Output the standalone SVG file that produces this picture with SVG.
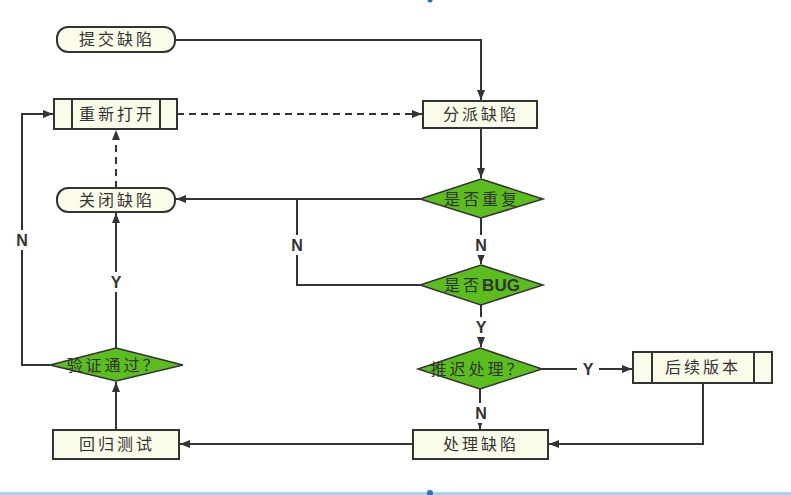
<svg xmlns="http://www.w3.org/2000/svg" width="791" height="495" viewBox="0 0 791 495">
<defs>
<marker id="ah" markerWidth="10" markerHeight="8" refX="10" refY="4" orient="auto" markerUnits="userSpaceOnUse">
<path d="M0,0 L10,4 L0,8 Z" fill="#333"/>
</marker>
<style>
.box{fill:#fbfbea;stroke:#333;stroke-width:2}
.dia{fill:#5cbd1e;stroke:#333;stroke-width:1.5}
.ln{fill:none;stroke:#333;stroke-width:2}
.dash{stroke-dasharray:7 5}
.t{font-family:"Noto Sans CJK SC","Noto Sans CJK JP",sans-serif;font-size:16px;fill:#333;text-anchor:middle;letter-spacing:3px}
.lab{font-family:"Liberation Sans",Arial,sans-serif;font-size:16px;font-weight:bold;fill:#333;text-anchor:middle}
</style>
</defs>
<rect width="791" height="495" fill="#ffffff"/>
<line x1="0" y1="493.5" x2="791" y2="493.5" stroke="#a9d3f5" stroke-width="3"/>
<circle cx="430" cy="493" r="3" fill="#2a6fd6"/>
<circle cx="430" cy="0" r="2.5" fill="#2a6fd6"/>

<g id="connectors">
<path class="ln" d="M175,40 H481 V100" marker-end="url(#ah)"/>
<path class="ln dash" d="M177,114 H422" marker-end="url(#ah)"/>
<path class="ln" d="M481,128 V178" marker-end="url(#ah)"/>
<path class="ln" d="M420,199 H176" marker-end="url(#ah)"/>
<path class="ln" d="M297,199 V285 H420"/>
<path class="ln" d="M481,218 V264" marker-end="url(#ah)"/>
<path class="ln" d="M481,305 V347" marker-end="url(#ah)"/>
<path class="ln" d="M542,369 H632" marker-end="url(#ah)"/>
<path class="ln" d="M480,389 V429" marker-end="url(#ah)"/>
<path class="ln" d="M703,383 V444 H549" marker-end="url(#ah)"/>
<path class="ln" d="M413,444 H180" marker-end="url(#ah)"/>
<path class="ln" d="M116,430 V382" marker-end="url(#ah)"/>
<path class="ln" d="M116,348 V213" marker-end="url(#ah)"/>
<path class="ln dash" d="M116,188 V130" marker-end="url(#ah)"/>
<path class="ln" d="M50,365 H22 V114 H53" marker-end="url(#ah)"/>
<rect x="285" y="235" width="24" height="20" fill="#fff"/>
<rect x="469" y="235" width="24" height="20" fill="#fff"/>
<rect x="469" y="317" width="24" height="20" fill="#fff"/>
<rect x="469" y="403" width="24" height="20" fill="#fff"/>
<rect x="577" y="359" width="22" height="20" fill="#fff"/>
<rect x="12" y="230" width="22" height="20" fill="#fff"/>
<rect x="105" y="272" width="22" height="20" fill="#fff"/>
<text class="lab" x="297" y="251">N</text>
<text class="lab" x="481" y="251">N</text>
<text class="lab" x="481" y="333">Y</text>
<text class="lab" x="481" y="419">N</text>
<text class="lab" x="588" y="375">Y</text>
<text class="lab" x="22" y="246">N</text>
<text class="lab" x="116" y="288">Y</text>
</g>

<g id="submit">
<rect class="box" x="57" y="27" width="118" height="25" rx="11"/>
<text class="t" x="117" y="45">提交缺陷</text>
</g>
<g id="reopen">
<rect class="box" x="54" y="99" width="123" height="30"/>
<line class="ln" x1="72" y1="99" x2="72" y2="129"/>
<line class="ln" x1="160" y1="99" x2="160" y2="129"/>
<text class="t" x="117" y="120">重新打开</text>
</g>
<g id="assign">
<rect class="box" x="423" y="101" width="114" height="27"/>
<text class="t" x="481" y="120">分派缺陷</text>
</g>
<g id="close">
<rect class="box" x="57" y="188" width="118" height="24" rx="11"/>
<text class="t" x="117" y="206">关闭缺陷</text>
</g>
<g id="dup">
<polygon class="dia" points="481,179 543,199 481,218 420,199"/>
<text class="t" x="482" y="205">是否重复</text>
</g>
<g id="bug">
<polygon class="dia" points="481,265 543,285 481,305 420,285"/>
<text class="t" x="482" y="291" letter-spacing="1">是否<tspan font-family="Liberation Sans,Arial,sans-serif" font-weight="bold" font-size="17" letter-spacing="0">BUG</tspan></text>
</g>
<g id="defer">
<polygon class="dia" points="480,348 542,369 480,389 418,369"/>
<text class="t" x="478" y="375">推迟处理？</text>
</g>
<g id="later">
<rect class="box" x="633" y="352" width="139" height="31"/>
<line class="ln" x1="652" y1="352" x2="652" y2="383"/>
<line class="ln" x1="754" y1="352" x2="754" y2="383"/>
<text class="t" x="703" y="373">后续版本</text>
</g>
<g id="fix">
<rect class="box" x="413" y="430" width="135" height="29"/>
<text class="t" x="481" y="450">处理缺陷</text>
</g>
<g id="regress">
<rect class="box" x="53" y="430" width="126" height="29"/>
<text class="t" x="117" y="450">回归测试</text>
</g>
<g id="verify">
<polygon class="dia" points="116,348 183,365 116,381 50,365"/>
<text class="t" x="114" y="371">验证通过？</text>
</g>
</svg>
